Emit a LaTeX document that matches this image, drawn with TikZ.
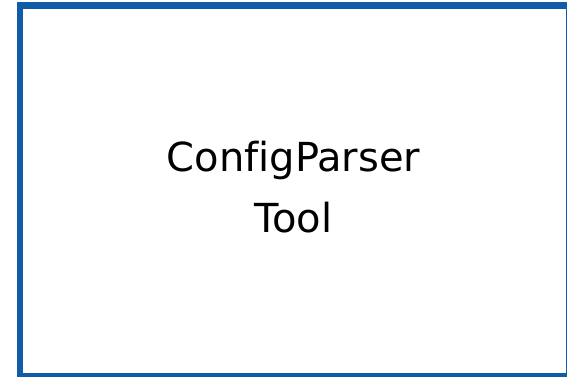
\documentclass[tikz,border=0pt]{standalone}
\usepackage{fontspec}
\setmainfont{DejaVu Sans}[Ligatures={NoCommon}]
\definecolor{frameblue}{RGB}{16,92,168}
\tikzset{
  toolbox/.style={draw=frameblue, line width=6pt, fill=white, minimum width=548.5pt, minimum height=370.2pt, inner sep=0pt},
  toollabel/.style={align=center, font=\fontsize{40}{48}\selectfont, text=black}
}
\begin{document}
\begin{tikzpicture}[x=1pt,y=1pt]
\useasboundingbox (0,0) rectangle (567,376);
\fill[white] (0,0) rectangle (567,376);
\node[toolbox] (box) at (294.25,185.4) {};
\node[toollabel] (label) at (293.5,189) {ConfigParser\\[13pt]Tool};
\end{tikzpicture}
\end{document}
